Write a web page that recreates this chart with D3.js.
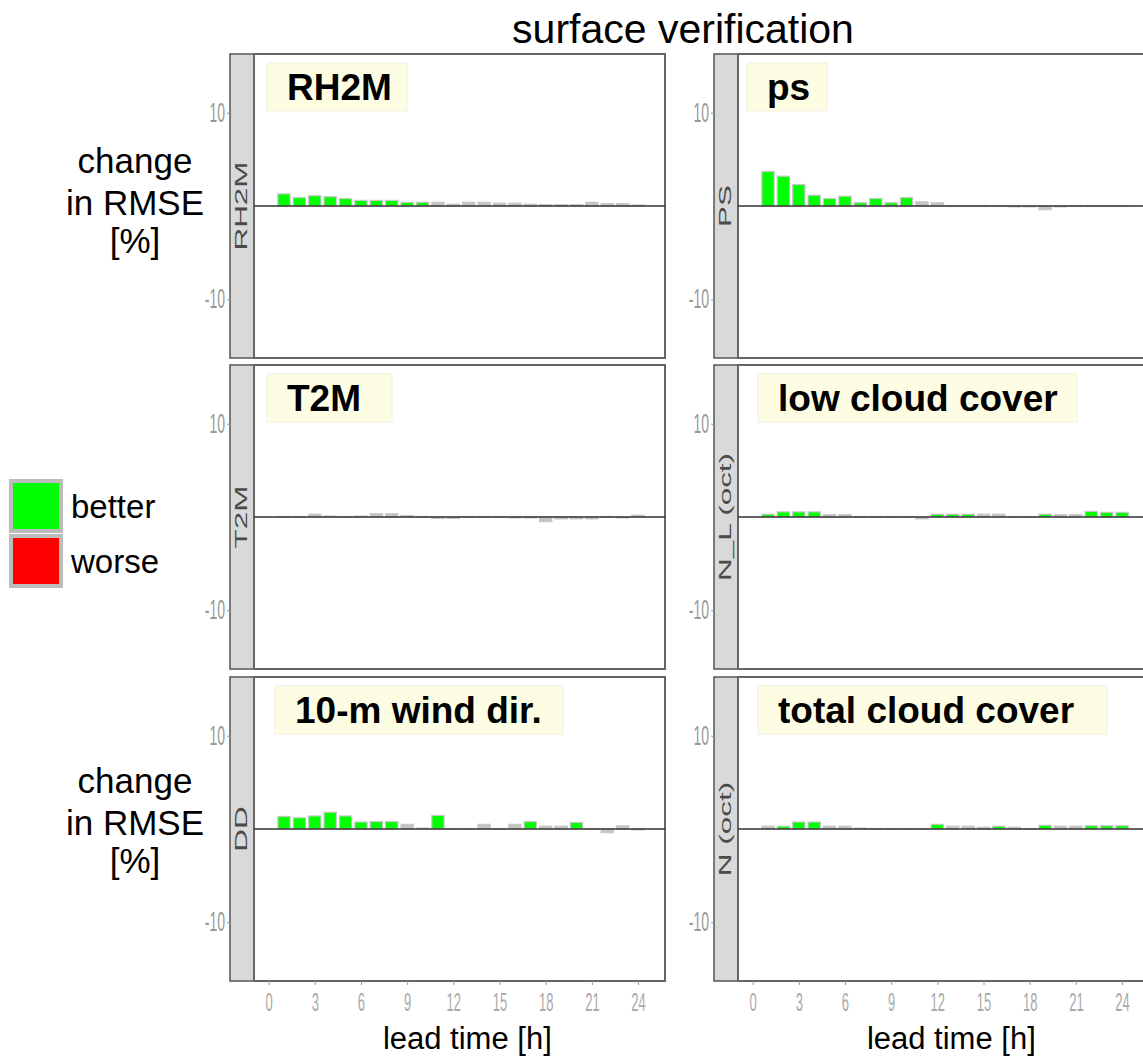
<!DOCTYPE html>
<html>
<head>
<meta charset="utf-8">
<script src="https://cdn.jsdelivr.net/npm/d3@7"></script>
<style>
  body { margin: 0; background: #fff; }
  svg { display: block; font-family: "Liberation Sans", Arial, sans-serif; }
</style>
</head>
<body>
<svg id="chart" width="1143" height="1059"></svg>
<script>
// lead times of the bars [h]
var leadTimes = [1,2,3,4,5,6,7,8,9,10,11,12,13,14,15,16,17,18,19,20,21,22,23,24];
var xTicks = [0,3,6,9,12,15,18,21,24];
var yTicks = [10,-10];

// change in RMSE [%] per lead time, and significance (1 = significant)
var rh2m    = [1.3,0.9,1.1,1.0,0.8,0.6,0.6,0.6,0.4,0.4,0.4,0.2,0.4,0.4,0.3,0.3,0.2,0.15,0.15,0.15,0.4,0.25,0.25,0.1];
var rh2mSig = [1,1,1,1,1,1,1,1,1,1,0,0,0,0,0,0,0,0,0,0,0,0,0,0];
var ps      = [3.7,3.2,2.3,1.15,0.8,1.05,0.35,0.8,0.35,0.9,0.45,0.35,0.05,0.05,0.05,0.05,-0.1,-0.1,-0.4,-0.1,0.05,0.05,0.05,0.05];
var psSig   = [1,1,1,1,1,1,1,1,1,1,0,0,0,0,0,0,0,0,0,0,0,0,0,0];
var t2m     = [0.05,0.05,0.3,0.1,0.05,0.1,0.35,0.35,0.15,0.05,-0.15,-0.15,0.05,0.05,0.05,-0.1,-0.1,-0.5,-0.2,-0.2,-0.2,0.05,-0.1,0.2];
var t2mSig  = [0,0,0,0,0,0,0,0,0,0,0,0,0,0,0,0,0,0,0,0,0,0,0,0];
var nl      = [0.3,0.55,0.55,0.55,0.25,0.25,0.05,0.05,0.05,0.05,-0.2,0.3,0.3,0.3,0.3,0.3,0.05,0.05,0.3,0.25,0.25,0.6,0.5,0.5];
var nlSig   = [1,1,1,1,0,0,0,0,0,0,0,1,1,1,0,0,0,0,1,0,0,1,1,1];
var dd      = [1.35,1.2,1.4,1.8,1.4,0.75,0.8,0.8,0.5,0.1,1.45,0.05,0.05,0.5,0.05,0.5,0.8,0.3,0.3,0.7,0.05,-0.4,0.35,-0.1];
var ddSig   = [1,1,1,1,1,1,1,1,0,0,1,0,0,0,0,0,1,0,0,1,0,0,0,0];
var ntot    = [0.3,0.3,0.75,0.75,0.3,0.3,0.1,0.05,0.05,0.05,0.05,0.5,0.3,0.3,0.2,0.3,0.2,0.05,0.4,0.3,0.3,0.35,0.35,0.35];
var ntotSig = [0,1,1,1,0,0,0,0,0,0,0,1,0,0,0,1,0,0,1,0,0,1,1,1];

var panels = [
  {strip: "RH2M",      title: "RH2M",              values: rh2m, sig: rh2mSig, col: 0, row: 0, bx: 13, box: 140},
  {strip: "PS",        title: "ps",                values: ps,   sig: psSig,   col: 1, row: 0, bx: 9,  box: 80},
  {strip: "T2M",       title: "T2M",               values: t2m,  sig: t2mSig,  col: 0, row: 1, bx: 13, box: 125},
  {strip: "N_L (oct)", title: "low cloud cover",   values: nl,   sig: nlSig,   col: 1, row: 1, bx: 20, box: 319},
  {strip: "DD",        title: "10-m wind dir.",    values: dd,   sig: ddSig,   col: 0, row: 2, bx: 21, box: 288},
  {strip: "N (oct)",   title: "total cloud cover", values: ntot, sig: ntotSig, col: 1, row: 2, bx: 20, box: 349}
];

var legendLabels = ["better", "worse"];
var legendColors = ["#00ff00", "#ff0000"];

var svg = d3.select("#chart");

var colX = [254, 738];
var rowY = [54, 365, 677];
var pw = 411, ph = 304, stripW = 24;
var squeeze = 0.52; // condensed tick labels

var x = d3.scaleLinear().domain([-0.95, 25.75]).range([0, pw]);
var y = d3.scaleLinear().domain([16.3, -16.3]).range([0, ph]);
var bw = x(0.8) - x(0);

function barColor(v, s) {
  if (!s) return "#c4c4c4";
  return v >= 0 ? "#00ff00" : "#ff0000";
}

function condense(sel, attr) {
  sel.each(function() {
    var t = d3.select(this);
    var v = +t.attr(attr) || 0;
    if (attr === "x") t.attr("x", v / squeeze);
    t.attr("transform", "scale(" + squeeze + ",1)");
  });
}

panels.forEach(function(p) {
  var g = svg.append("g")
    .attr("transform", "translate(" + colX[p.col] + "," + rowY[p.row] + ")");

  // strip on the left
  g.append("rect")
    .attr("x", -stripW).attr("y", 0)
    .attr("width", stripW).attr("height", ph)
    .attr("fill", "#d9d9d9")
    .attr("stroke", "#555").attr("stroke-width", 1.5);
  g.append("text")
    .attr("transform", "translate(-7," + (ph / 2) + ") rotate(-90) scale(1.85,1)")
    .attr("text-anchor", "middle")
    .attr("font-size", 17)
    .attr("fill", "#4a4a4a")
    .text(p.strip);

  // panel
  g.append("rect")
    .attr("width", pw).attr("height", ph)
    .attr("fill", "#fff")
    .attr("stroke", "#666").attr("stroke-width", 2);

  // y axis left of the strip
  var ya = g.append("g")
    .attr("transform", "translate(" + (-stripW) + ",0)")
    .call(d3.axisLeft(y).tickValues(yTicks).tickFormat(function(d) { return String(d); })
      .tickSize(3).tickPadding(2));
  ya.select(".domain").remove();
  ya.selectAll("line").attr("stroke", "#999");
  ya.selectAll("text")
    .attr("font-size", 27).attr("fill", "#999")
    .call(condense, "x");

  // bars
  var data = leadTimes.map(function(t, i) { return {t: t, v: p.values[i], s: p.sig[i]}; });
  g.selectAll("rect.bar").data(data).enter().append("rect")
    .attr("class", "bar")
    .attr("x", function(d) { return x(d.t) - bw / 2; })
    .attr("y", function(d) { return y(Math.max(0, d.v)); })
    .attr("width", bw)
    .attr("height", function(d) { return Math.abs(y(d.v) - y(0)); })
    .attr("fill", function(d) { return barColor(d.v, d.s); })
    .attr("stroke", "#c8c8c8").attr("stroke-width", 1.2);

  // zero line
  g.append("line")
    .attr("x1", 0).attr("x2", pw)
    .attr("y1", y(0)).attr("y2", y(0))
    .attr("stroke", "#333").attr("stroke-width", 1.5);

  // title box
  g.append("rect")
    .attr("x", p.bx).attr("y", 9)
    .attr("width", p.box).attr("height", 48)
    .attr("fill", "#fdfde3")
    .attr("stroke", "#f0f0e0");
  g.append("text")
    .attr("x", p.bx + 20)
    .attr("y", 46)
    .attr("font-size", 37).attr("font-weight", "bold")
    .attr("fill", "#000")
    .text(p.title);

  // x axis on the bottom row
  if (p.row === 2) {
    var xa = g.append("g")
      .attr("transform", "translate(0," + ph + ")")
      .call(d3.axisBottom(x).tickValues(xTicks).tickSize(4).tickPadding(8));
    xa.select(".domain").remove();
    xa.selectAll("line").attr("stroke", "#999");
    xa.selectAll("text")
      .attr("font-size", 25).attr("fill", "#aaa");
    xa.selectAll(".tick text").each(function() {
      d3.select(this).attr("transform", "scale(" + squeeze + ",1)");
    });
    g.append("text")
      .attr("x", x(12) + 14).attr("y", ph + 68)
      .attr("text-anchor", "middle")
      .attr("font-size", 31).attr("fill", "#000")
      .text("lead time [h]");
  }
});

// title
svg.append("text")
  .attr("x", 683).attr("y", 43)
  .attr("text-anchor", "middle")
  .attr("font-size", 41).attr("fill", "#000")
  .text("surface verification");

// y labels
[[173, 215, 253], [793, 835, 873]].forEach(function(ys) {
  ["change", "in RMSE", "[%]"].forEach(function(s, i) {
    svg.append("text")
      .attr("x", 135).attr("y", ys[i])
      .attr("text-anchor", "middle")
      .attr("font-size", 35).attr("fill", "#000")
      .text(s);
  });
});

// legend
var lg = svg.append("g").attr("transform", "translate(11,481)");
legendLabels.forEach(function(lab, i) {
  lg.append("rect")
    .attr("x", 0).attr("y", i * 55)
    .attr("width", 50).attr("height", 50)
    .attr("fill", legendColors[i])
    .attr("stroke", "#bdbdbd").attr("stroke-width", 4);
  lg.append("text")
    .attr("x", 60).attr("y", i * 55 + 37)
    .attr("font-size", 33).attr("fill", "#000")
    .text(lab);
});
</script>
</body>
</html>
